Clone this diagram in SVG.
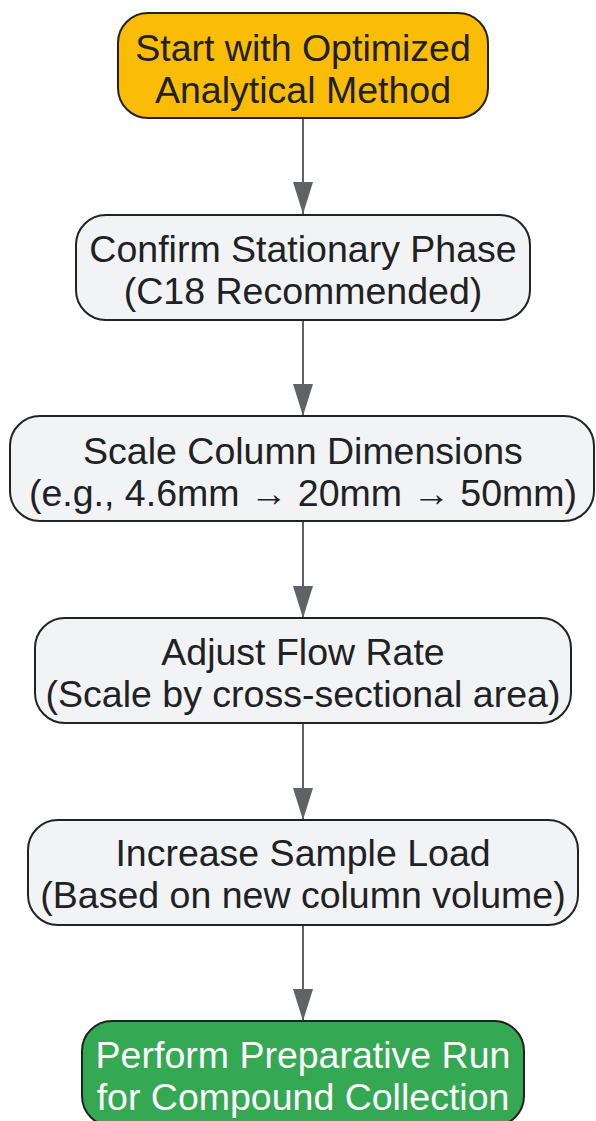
<svg xmlns="http://www.w3.org/2000/svg" width="596" height="1121" viewBox="0 0 596 1121">
<defs>
<style>
.n{stroke:#222;stroke-width:2}
.t{font-family:"Liberation Sans",Arial,sans-serif;font-size:37.5px;text-anchor:middle;fill:#202124}
.w{fill:#fff}
.e{stroke:#5f6368;stroke-width:2;fill:none}
</style>
<marker id="ah" markerWidth="32" markerHeight="20" refX="32" refY="10" orient="auto" markerUnits="userSpaceOnUse" viewBox="0 0 32 20">
<path d="M0,0 L32,10 L0,20 Z" fill="#5f6368"/>
</marker>
</defs>
<rect width="596" height="1121" fill="#fff"/>
<g id="edges">
<line class="e" x1="303" y1="118" x2="303" y2="214" marker-end="url(#ah)"/>
<line class="e" x1="303" y1="320" x2="303" y2="416" marker-end="url(#ah)"/>
<line class="e" x1="303" y1="521" x2="303" y2="618" marker-end="url(#ah)"/>
<line class="e" x1="303" y1="723" x2="303" y2="820" marker-end="url(#ah)"/>
<line class="e" x1="303" y1="925" x2="303" y2="1021" marker-end="url(#ah)"/>
</g>
<g id="n1">
<rect class="n" x="118" y="13" width="370" height="105" rx="30" fill="#fbbc05"/>
<text class="t" x="303" y="60.5">Start with Optimized</text>
<text class="t" x="303" y="102.5">Analytical Method</text>
</g>
<g id="n2">
<rect class="n" x="76" y="215" width="454" height="105" rx="30" fill="#f1f3f4"/>
<text class="t" x="303" y="261.5">Confirm Stationary Phase</text>
<text class="t" x="303" y="303.5">(C18 Recommended)</text>
</g>
<g id="n3">
<rect class="n" x="10" y="416" width="584" height="105" rx="30" fill="#f1f3f4"/>
<text class="t" x="303" y="463.5">Scale Column Dimensions</text>
<text class="t" x="303" y="505.5">(e.g., 4.6mm → 20mm → 50mm)</text>
</g>
<g id="n4">
<rect class="n" x="35" y="618" width="536" height="105" rx="30" fill="#f1f3f4"/>
<text class="t" x="303" y="664.5">Adjust Flow Rate</text>
<text class="t" x="303" y="706.5">(Scale by cross-sectional area)</text>
</g>
<g id="n5">
<rect class="n" x="28" y="820" width="550" height="105" rx="30" fill="#f1f3f4"/>
<text class="t" x="303" y="865.5">Increase Sample Load</text>
<text class="t" x="303" y="907.5">(Based on new column volume)</text>
</g>
<g id="n6">
<rect class="n" x="82" y="1021" width="442" height="105" rx="30" fill="#34a853"/>
<text class="t w" x="303" y="1067.5">Perform Preparative Run</text>
<text class="t w" x="303" y="1109.5">for Compound Collection</text>
</g>
</svg>
